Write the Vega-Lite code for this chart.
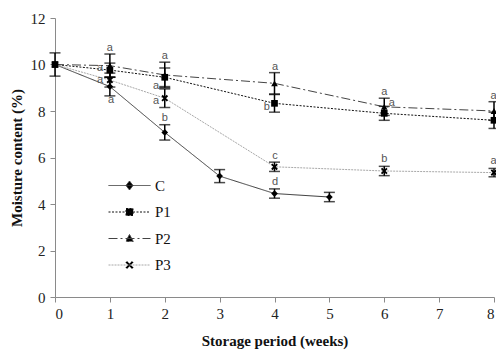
{
  "$schema": "https://vega.github.io/schema/vega-lite/v6.json",
  "width": 439,
  "height": 279,
  "autosize": {"type": "none"},
  "padding": {"left": 55, "top": 18, "right": 2, "bottom": 57},
  "background": "white",
  "config": {
    "view": {"stroke": null},
    "axis": {
      "grid": false,
      "domainColor": "#8a8a8a",
      "tickColor": "#8a8a8a",
      "tickSize": 5,
      "labelFont": "Liberation Serif",
      "labelFontSize": 15,
      "labelColor": "#222222",
      "titleFont": "Liberation Serif",
      "titleFontSize": 15,
      "titleFontWeight": "bold",
      "titleColor": "#111111"
    }
  },
  "datasets": {
    "m": [
      {"series": "C", "week": 0, "value": 10.0, "err": 0.5},
      {"series": "C", "week": 1, "value": 9.05, "err": 0.4},
      {"series": "C", "week": 2, "value": 7.08, "err": 0.33},
      {"series": "C", "week": 3, "value": 5.2, "err": 0.28},
      {"series": "C", "week": 4, "value": 4.45, "err": 0.2},
      {"series": "C", "week": 5, "value": 4.3, "err": 0.2},
      {"series": "P1", "week": 0, "value": 10.0, "err": 0},
      {"series": "P1", "week": 1, "value": 9.76, "err": 0.3},
      {"series": "P1", "week": 2, "value": 9.45, "err": 0.4},
      {"series": "P1", "week": 4, "value": 8.33, "err": 0.38},
      {"series": "P1", "week": 6, "value": 7.9, "err": 0.3},
      {"series": "P1", "week": 8, "value": 7.6, "err": 0.35},
      {"series": "P2", "week": 0, "value": 10.0, "err": 0},
      {"series": "P2", "week": 1, "value": 9.95, "err": 0.5},
      {"series": "P2", "week": 2, "value": 9.55, "err": 0.55},
      {"series": "P2", "week": 4, "value": 9.19, "err": 0.46},
      {"series": "P2", "week": 6, "value": 8.18, "err": 0.37},
      {"series": "P2", "week": 8, "value": 8.0, "err": 0.4},
      {"series": "P3", "week": 0, "value": 10.0, "err": 0},
      {"series": "P3", "week": 1, "value": 9.33, "err": 0.3},
      {"series": "P3", "week": 2, "value": 8.55, "err": 0.4},
      {"series": "P3", "week": 4, "value": 5.6, "err": 0.2},
      {"series": "P3", "week": 6, "value": 5.42, "err": 0.2},
      {"series": "P3", "week": 8, "value": 5.35, "err": 0.18}
    ],
    "letters": [
      {"week": 1.0, "y": 10.72, "t": "a"},
      {"week": 0.82, "y": 9.84, "t": "a"},
      {"week": 0.82, "y": 9.33, "t": "a"},
      {"week": 1.02, "y": 8.47, "t": "a"},
      {"week": 2.0, "y": 10.38, "t": "a"},
      {"week": 1.84, "y": 9.09, "t": "a"},
      {"week": 1.84, "y": 8.44, "t": "a"},
      {"week": 2.0, "y": 7.69, "t": "b"},
      {"week": 4.01, "y": 9.88, "t": "a"},
      {"week": 3.86, "y": 8.18, "t": "b"},
      {"week": 4.01, "y": 6.08, "t": "c"},
      {"week": 4.01, "y": 4.93, "t": "d"},
      {"week": 6.0, "y": 8.8, "t": "a"},
      {"week": 6.14, "y": 8.33, "t": "a"},
      {"week": 6.0, "y": 5.92, "t": "b"},
      {"week": 7.99, "y": 8.66, "t": "a"},
      {"week": 7.99, "y": 5.86, "t": "a"}
    ]
  },
  "layer": [
    {
      "data": {"name": "m"},
      "mark": {"type": "line", "strokeWidth": 1},
      "encoding": {
        "x": {
          "field": "week", "type": "quantitative",
          "scale": {"domain": [0, 8], "nice": false},
          "title": "Storage period (weeks)",
          "axis": {"values": [0, 1, 2, 3, 4, 5, 6, 7, 8], "labelPadding": 4, "titlePadding": 12}
        },
        "y": {
          "field": "value", "type": "quantitative",
          "scale": {"domain": [0, 12], "nice": false},
          "title": "Moisture content (%)",
          "axis": {"values": [0, 2, 4, 6, 8, 10, 12], "labelPadding": 5, "titlePadding": 6}
        },
        "color": {
          "field": "series", "type": "nominal",
          "scale": {"domain": ["C", "P1", "P2", "P3"], "range": ["#3a3a3a", "#111111", "#444444", "#a8a8a8"]},
          "legend": {
            "orient": "none", "legendX": 67, "legendY": 160, "title": null, "padding": 0,
            "symbolSize": 100, "labelOffset": 18, "rowPadding": 10.5,
            "labelFont": "Liberation Serif", "labelFontSize": 15, "labelColor": "#111111",
            "encode": {"symbols": {"update": {
              "shape": {"signal": "datum.value === 'C' ? 'M-4.2,0H4.2M0,-0.9L0.7,0L0,0.9L-0.7,0Z' : datum.value === 'P1' ? 'M-4.2,0H4.2M-0.7,-0.7H0.7V0.7H-0.7Z' : datum.value === 'P2' ? 'M-4.2,0H4.2M0,-0.8L0.75,0.6H-0.75Z' : 'M-4.2,0H4.2M-0.8,-0.5L-0.5,-0.8L0,-0.3L0.5,-0.8L0.8,-0.5L0.3,0L0.8,0.5L0.5,0.8L0,0.3L-0.5,0.8L-0.8,0.5L-0.3,0Z'"},
              "fill": {"value": "#000000"},
              "fillOpacity": {"value": 1},
              "opacity": {"value": 1},
              "stroke": {"scale": "color", "field": "value"},
              "strokeDash": {"scale": "strokeDash", "field": "value"},
              "strokeWidth": {"value": 1},
              "strokeOpacity": {"value": 1}
            }}}
          }
        },
        "strokeDash": {
          "field": "series", "type": "nominal",
          "scale": {"domain": ["C", "P1", "P2", "P3"], "range": [[1, 0], [2, 1.5], [9, 3, 2, 3], [2, 1]]},
          "legend": {
            "orient": "none", "legendX": 67, "legendY": 160, "title": null, "padding": 0,
            "symbolSize": 100, "labelOffset": 18, "rowPadding": 10.5,
            "labelFont": "Liberation Serif", "labelFontSize": 15, "labelColor": "#111111",
            "encode": {"symbols": {"update": {
              "shape": {"signal": "datum.value === 'C' ? 'M-4.2,0H4.2M0,-0.9L0.7,0L0,0.9L-0.7,0Z' : datum.value === 'P1' ? 'M-4.2,0H4.2M-0.7,-0.7H0.7V0.7H-0.7Z' : datum.value === 'P2' ? 'M-4.2,0H4.2M0,-0.8L0.75,0.6H-0.75Z' : 'M-4.2,0H4.2M-0.8,-0.5L-0.5,-0.8L0,-0.3L0.5,-0.8L0.8,-0.5L0.3,0L0.8,0.5L0.5,0.8L0,0.3L-0.5,0.8L-0.8,0.5L-0.3,0Z'"},
              "fill": {"value": "#000000"},
              "fillOpacity": {"value": 1},
              "opacity": {"value": 1},
              "stroke": {"scale": "color", "field": "value"},
              "strokeDash": {"scale": "strokeDash", "field": "value"},
              "strokeWidth": {"value": 1},
              "strokeOpacity": {"value": 1}
            }}}
          }
        }
      }
    },
    {
      "data": {"name": "m"},
      "transform": [{"filter": "datum.err > 0"}],
      "mark": {"type": "errorbar", "ticks": {"size": 11, "color": "#000000"}, "thickness": 1.5, "color": "#000000"},
      "encoding": {
        "x": {"field": "week", "type": "quantitative"},
        "y": {"field": "value", "type": "quantitative", "title": "Moisture content (%)"},
        "yError": {"field": "err"}
      }
    },
    {
      "data": {"name": "m"},
      "transform": [{"filter": "datum.series === 'C'"}],
      "mark": {"type": "point", "shape": "diamond", "filled": true, "color": "#000000", "opacity": 1, "size": 45},
      "encoding": {
        "x": {"field": "week", "type": "quantitative"},
        "y": {"field": "value", "type": "quantitative"}
      }
    },
    {
      "data": {"name": "m"},
      "transform": [{"filter": "datum.series === 'P1'"}],
      "mark": {"type": "point", "shape": "square", "filled": true, "color": "#000000", "opacity": 1, "size": 45},
      "encoding": {
        "x": {"field": "week", "type": "quantitative"},
        "y": {"field": "value", "type": "quantitative"}
      }
    },
    {
      "data": {"name": "m"},
      "transform": [{"filter": "datum.series === 'P2'"}],
      "mark": {"type": "point", "shape": "triangle-up", "filled": true, "color": "#000000", "opacity": 1, "size": 45},
      "encoding": {
        "x": {"field": "week", "type": "quantitative"},
        "y": {"field": "value", "type": "quantitative"}
      }
    },
    {
      "data": {"name": "m"},
      "transform": [{"filter": "datum.series === 'P3'"}],
      "mark": {"type": "point", "shape": "M-1,-0.6L-0.6,-1L0,-0.4L0.6,-1L1,-0.6L0.4,0L1,0.6L0.6,1L0,0.4L-0.6,1L-1,0.6L-0.4,0Z", "filled": true, "color": "#000000", "opacity": 1, "size": 45},
      "encoding": {
        "x": {"field": "week", "type": "quantitative"},
        "y": {"field": "value", "type": "quantitative"}
      }
    },
    {
      "data": {"name": "letters"},
      "mark": {"type": "text", "font": "Liberation Sans", "fontSize": 11, "color": "#555555", "baseline": "middle", "align": "center"},
      "encoding": {
        "x": {"field": "week", "type": "quantitative"},
        "y": {"field": "y", "type": "quantitative"},
        "text": {"field": "t"}
      }
    }
  ]
}
